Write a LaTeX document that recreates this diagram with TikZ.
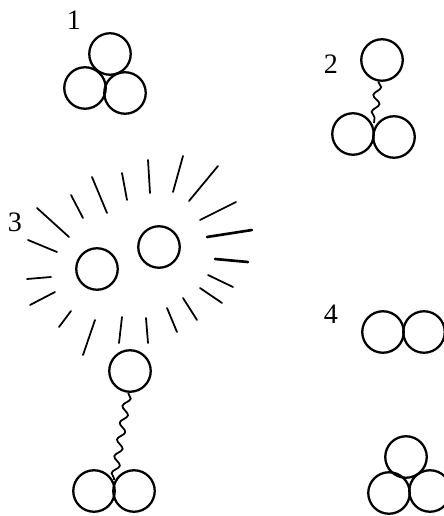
\documentclass[tikz,border=0pt]{standalone}
\usepackage{fontspec}
\setmainfont{Liberation Serif}
\usetikzlibrary{decorations.pathmorphing}
\begin{document}
\begin{tikzpicture}[x=0.02cm,y=-0.02cm,every node/.style={font=\fontsize{16}{18}\selectfont},
  atom/.style={draw,circle,line width=1.3pt,inner sep=0pt,minimum size=0.83cm},
  bond/.style={line width=1pt,decorate,decoration={snake,amplitude=0.07cm,segment length=0.34cm}},
  ray/.style={line width=1pt,line cap=round}]
  \useasboundingbox (0,0) rectangle (443,516);
  % 1
  \node (n1) at (74,20) {1};
  \node[atom] (t1) at (110,54) {};
  \node[atom] (l1) at (85,88) {};
  \node[atom] (r1) at (125,93) {};
  % 2
  \node (n2) at (331,64) {2};
  \node[atom] (t2) at (382,60) {};
  \node[atom] (l2) at (353,134) {};
  \node[atom] (r2) at (394,137) {};
  \coordinate (j2) at (374,123);
  \draw[bond] (t2.260) -- (j2);
  % 3
  \node (n3) at (15,222) {3};
  \node[atom] (p3) at (97,269) {};
  \node[atom] (q3) at (159,247) {};
  \draw[ray] (37,208) -- (69,237) (28,240) -- (57,252) (27,279) -- (51,277) (30,305) -- (55,292)
    (59,327) -- (71,311) (83,355) -- (95,320) (119,343) -- (122,317) (148,343) -- (146,318)
    (177,332) -- (167,308) (197,320) -- (183,298) (222,303) -- (200,288) (233,287) -- (208,275)
    (236,202) -- (200,220) (218,166) -- (189,201) (183,156) -- (173,192) (148,160) -- (150,193)
    (122,173) -- (127,200) (92,177) -- (107,213) (71,195) -- (83,218);
  \draw[ray,line width=1.5pt] (248,262) -- (215,259) (252,230) -- (207,237);
  \node[atom] (t3) at (130,371) {};
  \node[atom] (l3) at (94,491) {};
  \node[atom] (r3) at (134,491) {};
  \coordinate (j3) at (114,480);
  \draw[bond] (t3.265) -- (j3);
  % 4
  \node (n4) at (331,314) {4};
  \node[atom] (l4) at (383,332) {};
  \node[atom] (r4) at (424,332) {};
  \node[atom] (t5) at (406,457) {};
  \node[atom] (l5) at (389,493) {};
  \node[atom] (r5) at (430,491) {};
\end{tikzpicture}
\end{document}
